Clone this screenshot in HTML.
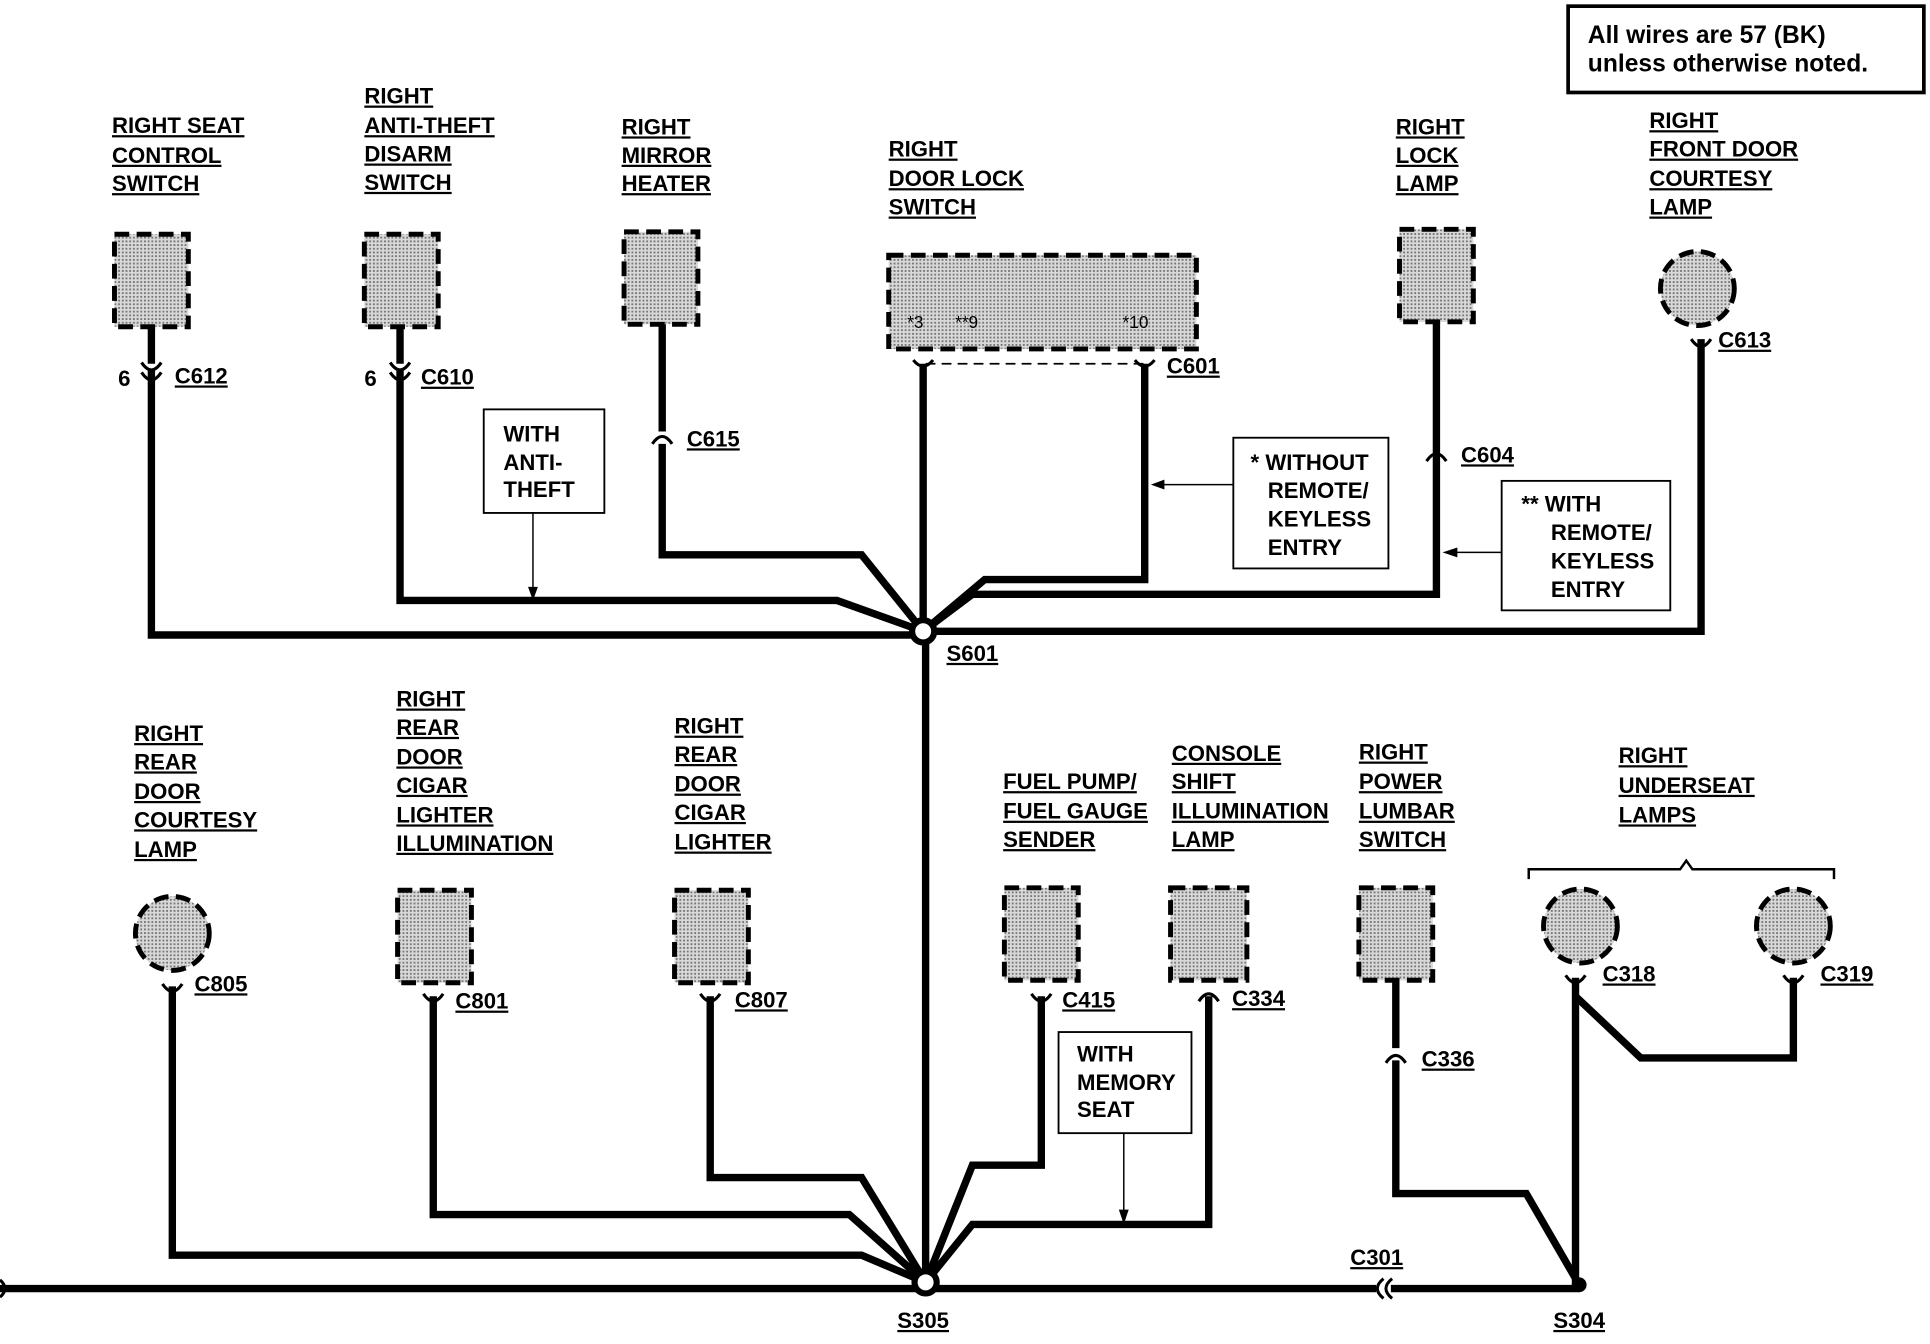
<!DOCTYPE html>
<html><head><meta charset="utf-8"><style>
html,body{margin:0;padding:0;background:#fff}
svg{display:block}
text{font-family:"Liberation Sans",sans-serif;font-weight:bold;font-size:18px;fill:#000}
.u{text-decoration:underline}
</style></head><body>
<svg width="1930" height="1344" viewBox="0 0 1568 1090" preserveAspectRatio="none" xmlns="http://www.w3.org/2000/svg">
<defs>
<pattern id="dots" width="3" height="3" patternUnits="userSpaceOnUse">
<rect width="3" height="3" fill="#d8d8d8"/><rect width="1.5" height="1.5" fill="#777"/>
</pattern>
</defs>
<rect width="1568" height="1090" fill="#fff"/>
<g fill="none" stroke="#000" stroke-width="6" stroke-linejoin="miter">
<path d="M123 300 V515 H740"/>
<path d="M325 300 V487 H680 L750 512"/>
<path d="M538 360 V450 H700 L750 512"/>
<path d="M750 295 V512"/>
<path d="M930 295 V470 H800 L750 512"/>
<path d="M1167 262 V482 H790 L750 512"/>
<path d="M1382 275 V512 H760"/>
<path d="M123 262 V295"/><path d="M325 262 V295"/><path d="M538 262 V350"/>
<path d="M752 512 V1040"/>
<path d="M140 800 V1018 H700 L752 1040"/>
<path d="M352 808 V985 H690 L752 1040"/>
<path d="M577 808 V955 H700 L752 1040"/>
<path d="M846 808 V945 H790 L752 1040"/>
<path d="M982 808 V993 H790 L752 1040"/>
<path d="M1134 795 V850"/>
<path d="M1134 860 V968 H1240 L1283 1042"/>
<path d="M1280 793 V1042"/>
<path d="M1280 808 L1333 858 H1457 V793"/>
<path d="M0 1045 H1118"/><path d="M1130 1045 H1283"/>
</g>
<path d="M752 295 H930" stroke="#000" stroke-width="1.5" stroke-dasharray="8,5" fill="none"/>
<g fill="none" stroke="#000" stroke-width="2.5">
<path d="M115 294 Q123 306 131 294"/><path d="M115 302 Q123 314 131 302"/>
<path d="M317 294 Q325 306 333 294"/><path d="M317 302 Q325 314 333 302"/>
<path d="M530 360 Q538 348 546 360"/>
<path d="M1159 374 Q1167 362 1175 374"/>
<path d="M1374 275 Q1382 287 1390 275"/>
<path d="M742 292 Q750 302 758 292"/><path d="M922 292 Q930 302 938 292"/>
<path d="M132 798 Q140 810 148 798"/>
<path d="M344 806 Q352 818 360 806"/>
<path d="M569 806 Q577 818 585 806"/>
<path d="M838 806 Q846 818 854 806"/>
<path d="M974 812 Q982 800 990 812"/>
<path d="M1126 862 Q1134 850 1142 862"/>
<path d="M1272 791 Q1280 803 1288 791"/>
<path d="M1449 791 Q1457 803 1465 791"/>
<path d="M1124 1037 Q1114 1045 1124 1053"/><path d="M1131 1037 Q1121 1045 1131 1053"/>
<path d="M0 1038 Q8 1045 0 1052"/>
</g>
<g fill="url(#dots)" stroke="#000" stroke-width="4" stroke-dasharray="12,6">
<rect x="93" y="190" width="60" height="75"/>
<rect x="296" y="190" width="60" height="75"/>
<rect x="507" y="188" width="60" height="75"/>
<rect x="722" y="207" width="250" height="76"/>
<rect x="1137" y="186" width="60" height="75"/>
<circle cx="1379" cy="234" r="30"/>
<circle cx="140" cy="757" r="30"/>
<rect x="323" y="722" width="60" height="75"/>
<rect x="548" y="722" width="60" height="75"/>
<rect x="816" y="720" width="60" height="75"/>
<rect x="951" y="720" width="62" height="75"/>
<rect x="1104" y="720" width="60" height="75"/>
<circle cx="1284" cy="751" r="30"/>
<circle cx="1457" cy="751" r="30"/>
</g>
<text x="737" y="266" style="font-size:14px;font-weight:normal">*3</text>
<text x="776" y="266" style="font-size:14px;font-weight:normal">**9</text>
<text x="912" y="266" style="font-size:14px;font-weight:normal">*10</text>
<circle cx="750" cy="512" r="9" fill="#fff" stroke="#000" stroke-width="5"/>
<circle cx="752" cy="1040" r="9" fill="#fff" stroke="#000" stroke-width="5"/>
<circle cx="1283" cy="1042" r="6" fill="#000"/>
<path d="M1242 713 V705 H1365 L1370 698 L1375 705 H1490 V713" fill="none" stroke="#000" stroke-width="2"/>
<g fill="#fff" stroke="#000" stroke-width="1.5">
<rect x="393" y="332" width="98" height="84"/>
<rect x="1002" y="355" width="126" height="106"/>
<rect x="1220" y="390" width="137" height="105"/>
<rect x="860" y="837" width="108" height="82"/>
</g>
<rect x="1274" y="5" width="289" height="70" fill="#fff" stroke="#000" stroke-width="3"/>
<g stroke="#000" stroke-width="1.2" fill="none">
<path d="M433 416 V485"/><path d="M1002 393 H937"/><path d="M1220 448 H1174"/><path d="M913 919 V991"/>
</g>
<g fill="#000">
<path d="M429 476 L433 487 L437 476Z"/><path d="M946 389 L935 393 L946 397Z"/>
<path d="M1184 444 L1172 448 L1184 452Z"/><path d="M909 981 L913 993 L917 981Z"/>
</g>
<text x="1290" y="35" style="font-size:20px">All wires are 57 (BK)</text>
<text x="1290" y="58" style="font-size:20px">unless otherwise noted.</text>
<text x="409" y="358">WITH</text><text x="409" y="381">ANTI-</text><text x="409" y="403">THEFT</text>
<text x="1016" y="381">* WITHOUT</text><text x="1030" y="404">REMOTE/</text><text x="1030" y="427">KEYLESS</text><text x="1030" y="450">ENTRY</text>
<text x="1236" y="415">** WITH</text><text x="1260" y="438">REMOTE/</text><text x="1260" y="461">KEYLESS</text><text x="1260" y="484">ENTRY</text>
<text x="875" y="861">WITH</text><text x="875" y="884">MEMORY</text><text x="875" y="906">SEAT</text>
<g>
<text class="u" x="91" y="108">RIGHT SEAT</text><text class="u" x="91" y="132">CONTROL</text><text class="u" x="91" y="155">SWITCH</text>
<text class="u" x="296" y="84">RIGHT</text><text class="u" x="296" y="108">ANTI-THEFT</text><text class="u" x="296" y="131">DISARM</text><text class="u" x="296" y="154">SWITCH</text>
<text class="u" x="505" y="109">RIGHT</text><text class="u" x="505" y="132">MIRROR</text><text class="u" x="505" y="155">HEATER</text>
<text class="u" x="722" y="127">RIGHT</text><text class="u" x="722" y="151">DOOR LOCK</text><text class="u" x="722" y="174">SWITCH</text>
<text class="u" x="1134" y="109">RIGHT</text><text class="u" x="1134" y="132">LOCK</text><text class="u" x="1134" y="155">LAMP</text>
<text class="u" x="1340" y="104">RIGHT</text><text class="u" x="1340" y="127">FRONT DOOR</text><text class="u" x="1340" y="151">COURTESY</text><text class="u" x="1340" y="174">LAMP</text>
<text class="u" x="109" y="601">RIGHT</text><text class="u" x="109" y="624">REAR</text><text class="u" x="109" y="648">DOOR</text><text class="u" x="109" y="671">COURTESY</text><text class="u" x="109" y="695">LAMP</text>
<text class="u" x="322" y="573">RIGHT</text><text class="u" x="322" y="596">REAR</text><text class="u" x="322" y="620">DOOR</text><text class="u" x="322" y="643">CIGAR</text><text class="u" x="322" y="667">LIGHTER</text><text class="u" x="322" y="690">ILLUMINATION</text>
<text class="u" x="548" y="595">RIGHT</text><text class="u" x="548" y="618">REAR</text><text class="u" x="548" y="642">DOOR</text><text class="u" x="548" y="665">CIGAR</text><text class="u" x="548" y="689">LIGHTER</text>
<text class="u" x="815" y="640">FUEL PUMP/</text><text class="u" x="815" y="664">FUEL GAUGE</text><text class="u" x="815" y="687">SENDER</text>
<text class="u" x="952" y="617">CONSOLE</text><text class="u" x="952" y="640">SHIFT</text><text class="u" x="952" y="664">ILLUMINATION</text><text class="u" x="952" y="687">LAMP</text>
<text class="u" x="1104" y="616">RIGHT</text><text class="u" x="1104" y="640">POWER</text><text class="u" x="1104" y="664">LUMBAR</text><text class="u" x="1104" y="687">SWITCH</text>
<text class="u" x="1315" y="619">RIGHT</text><text class="u" x="1315" y="643">UNDERSEAT</text><text class="u" x="1315" y="667">LAMPS</text>
<text class="u" x="142" y="311">C612</text><text class="u" x="342" y="312">C610</text>
<text class="u" x="558" y="362">C615</text><text class="u" x="948" y="303">C601</text>
<text class="u" x="1187" y="375">C604</text><text class="u" x="1396" y="282">C613</text>
<text class="u" x="769" y="536">S601</text>
<text class="u" x="158" y="804">C805</text><text class="u" x="370" y="818">C801</text>
<text class="u" x="597" y="817">C807</text><text class="u" x="863" y="817">C415</text>
<text class="u" x="1001" y="816">C334</text><text class="u" x="1155" y="865">C336</text>
<text class="u" x="1302" y="796">C318</text><text class="u" x="1479" y="796">C319</text>
<text class="u" x="1097" y="1026">C301</text>
<text class="u" x="729" y="1077">S305</text><text class="u" x="1262" y="1077">S304</text>
</g>
<text x="96" y="313">6</text><text x="296" y="313">6</text>
</svg>
</body></html>
